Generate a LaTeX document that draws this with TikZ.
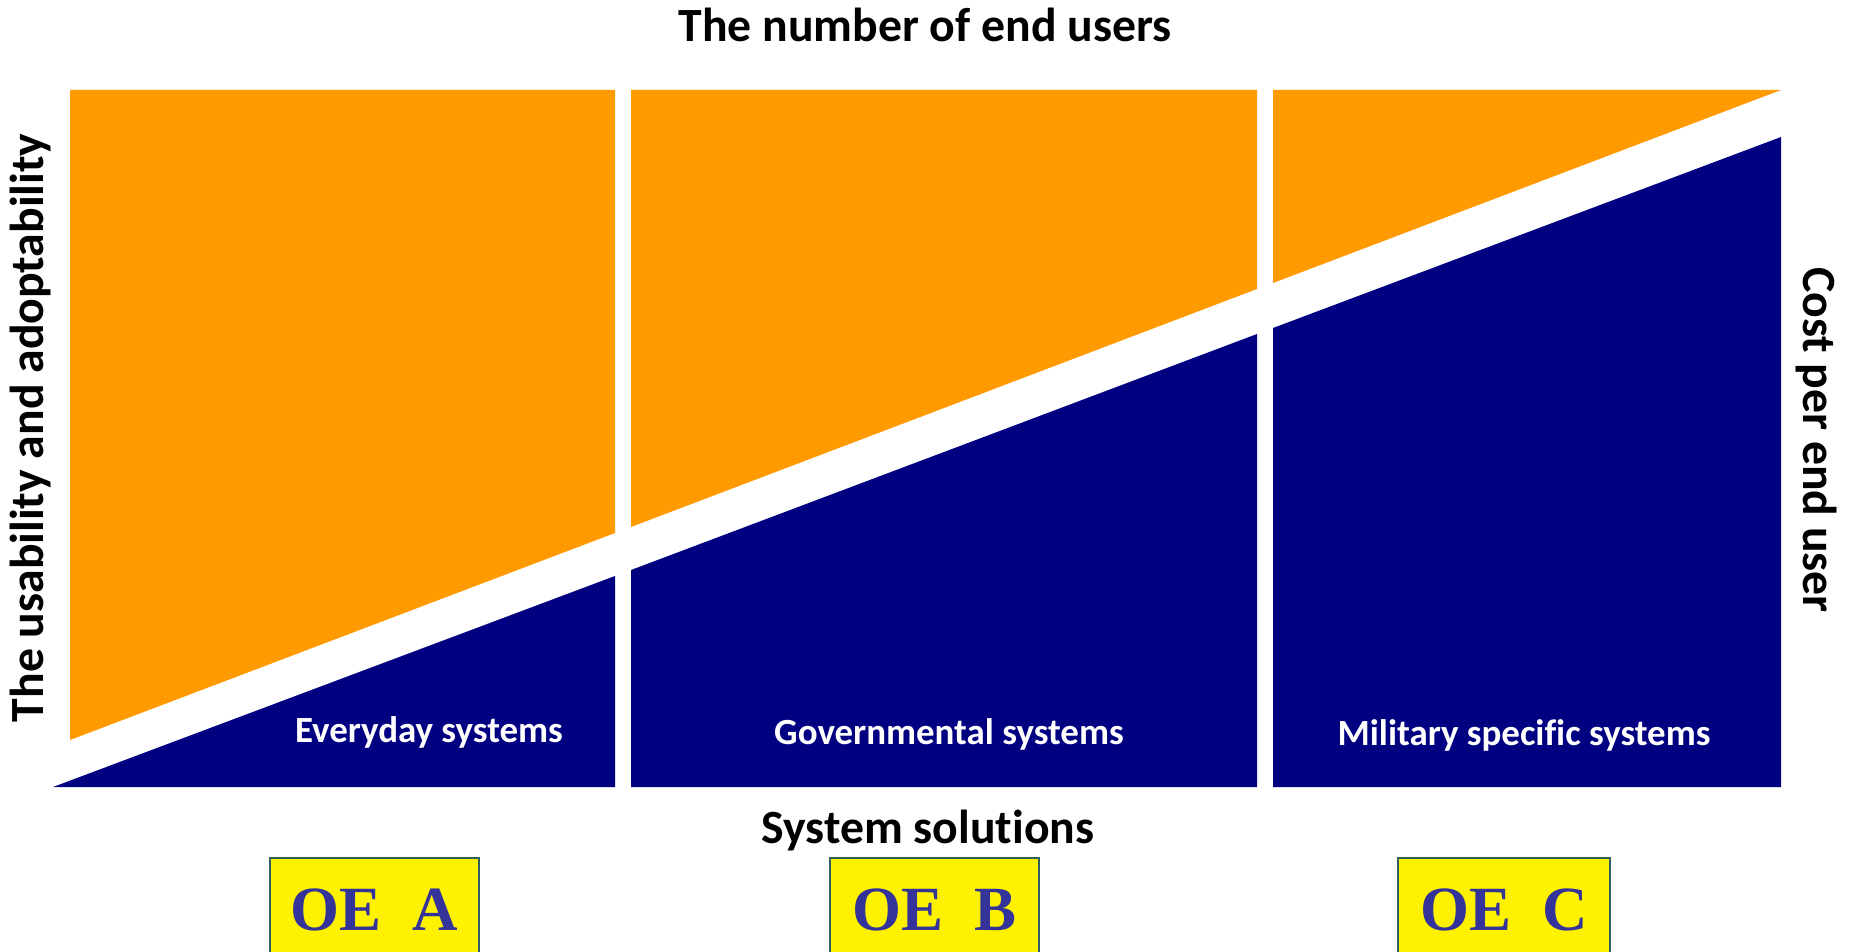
\documentclass[tikz,border=0pt]{standalone}
\usepackage{fontspec}
\setmainfont{Carlito}[Ligatures=NoCommon]
\newfontfamily\oefont{Liberation Serif}
\definecolor{orng}{HTML}{FF9A00}
\definecolor{navy}{HTML}{000080}
\definecolor{oeblue}{HTML}{333399}
\definecolor{oeframe}{HTML}{2F5F5F}
\tikzset{
  orangepart/.style={fill=orng, draw=none},
  bluepart/.style={fill=navy, draw=none},
  axislabel/.style={font=\fontsize{13.57pt}{15pt}\selectfont\bfseries, inner sep=0pt, anchor=base},
  syslabel/.style={font=\fontsize{10.5pt}{12pt}\selectfont\bfseries, text=white, inner sep=0pt, anchor=base},
  oebox/.style={fill=yellow, draw=oeframe, line width=0.6pt},
  oelabel/.style={font=\fontsize{17.9pt}{20pt}\selectfont\oefont\bfseries, text=oeblue, inner sep=0pt, anchor=base}
}
\begin{document}
\begin{tikzpicture}[x=0.01cm, y=-0.01cm]
\useasboundingbox (0,0) rectangle (1858,952);
\clip (0,0) rectangle (1858,952);
% orange parts
\fill[orangepart] (70,90) -- (615,90) -- (615,533) -- (70,740) -- cycle;
\fill[orangepart] (631,90) -- (1257,90) -- (1257,289) -- (631,527) -- cycle;
\fill[orangepart] (1273,90) -- (1781,90) -- (1273,283) -- cycle;
% blue parts
\fill[bluepart] (53,787) -- (615,576) -- (615,787) -- cycle;
\fill[bluepart] (631,570) -- (1257,334) -- (1257,787) -- (631,787) -- cycle;
\fill[bluepart] (1273,328) -- (1781,137) -- (1781,787) -- (1273,787) -- cycle;
% axis labels
\node[axislabel] (top) at (925,42) {The number of end users};
\node[axislabel] (bottom) at (928,843) {System solutions};
\node[axislabel, rotate=90] (left) at (44,428) {The usability and adoptability};
\node[axislabel, rotate=-90] (right) at (1803,440) {Cost per end user};
% system labels
\node[syslabel] (every) at (429,742) {Everyday systems};
\node[syslabel] (gov) at (949,744) {Governmental systems};
\node[syslabel] (mil) at (1524,745) {Military specific systems};
% OE boxes
\draw[oebox] (270,970) -- (270,858) -- (479,858) -- (479,970);
\draw[oebox] (830,970) -- (830,858) -- (1039,858) -- (1039,970);
\draw[oebox] (1398,970) -- (1398,858) -- (1610,858) -- (1610,970);
\node[oelabel] (oea) at (374.5,930) {OE\ \ A};
\node[oelabel] (oeb) at (934.5,930) {OE\ \ B};
\node[oelabel] (oec) at (1504,930) {OE\ \ C};
\end{tikzpicture}
\end{document}
